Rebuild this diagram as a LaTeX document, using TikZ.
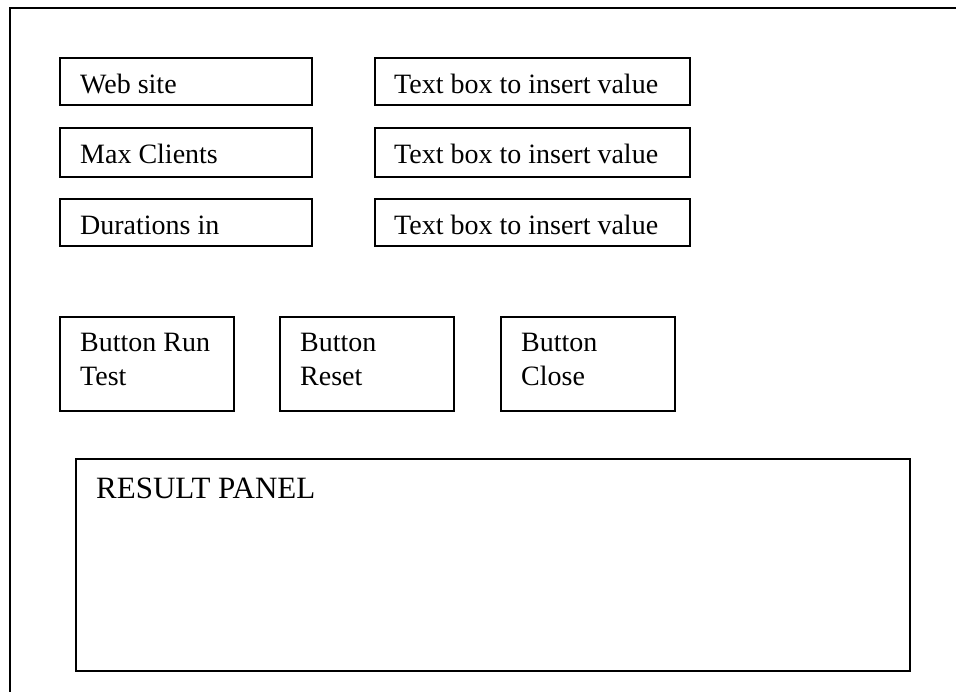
\documentclass[tikz,border=0pt]{standalone}
\usepackage{fontspec}
\setmainfont{Liberation Serif}
\begin{document}
\begin{tikzpicture}[x=1pt,y=-1pt,
  frame/.style={draw=black,line width=2pt},
  box/.style={draw=black,line width=2pt,rectangle,inner sep=0pt,anchor=north west},
  txt/.style={anchor=base west,inner sep=0pt,font=\fontsize{28}{33}\selectfont},
  bigtxt/.style={anchor=base west,inner sep=0pt,font=\fontsize{31}{36}\selectfont}]
\useasboundingbox (0,0) rectangle (956,692);
% window frame (top and left edges only)
\coordinate (fbl) at (10,692);
\coordinate (ftl) at (10,8);
\coordinate (ftr) at (958,8);
\draw[frame] (fbl) -- (ftl) -- (ftr);
% field labels
\node[box,minimum width=252pt,minimum height=47pt] (web) at (59,57) {};
\node[box,minimum width=252pt,minimum height=49pt] (max) at (59,127) {};
\node[box,minimum width=252pt,minimum height=47pt] (dur) at (59,198) {};
\node[txt] (webT) at (80,94) {Web site};
\node[txt] (maxT) at (80,164) {Max Clients};
\node[txt] (durT) at (80,235) {Durations in};
% input text boxes
\node[box,minimum width=315pt,minimum height=47pt] (in1) at (374,57) {};
\node[box,minimum width=315pt,minimum height=49pt] (in2) at (374,127) {};
\node[box,minimum width=315pt,minimum height=47pt] (in3) at (374,198) {};
\node[txt] (in1T) at (394,94) {Text box to insert value};
\node[txt] (in2T) at (394,164) {Text box to insert value};
\node[txt] (in3T) at (394,235) {Text box to insert value};
% buttons
\node[box,minimum width=174pt,minimum height=94pt] (run) at (59,316) {};
\node[box,minimum width=174pt,minimum height=94pt] (reset) at (279,316) {};
\node[box,minimum width=174pt,minimum height=94pt] (close) at (500,316) {};
% two-line captions: the base anchor sits on the last line
\node[txt,align=left] (runT) at (80,386) {Button Run\\[1pt]Test};
\node[txt,align=left] (resetT) at (300,386) {Button\\[1pt]Reset};
\node[txt,align=left] (closeT) at (521,386) {Button\\[1pt]Close};
% result panel
\node[box,minimum width=834pt,minimum height=212pt] (res) at (75,458) {};
\node[bigtxt] (resT) at (96,498) {RESULT PANEL};
\end{tikzpicture}
\end{document}
